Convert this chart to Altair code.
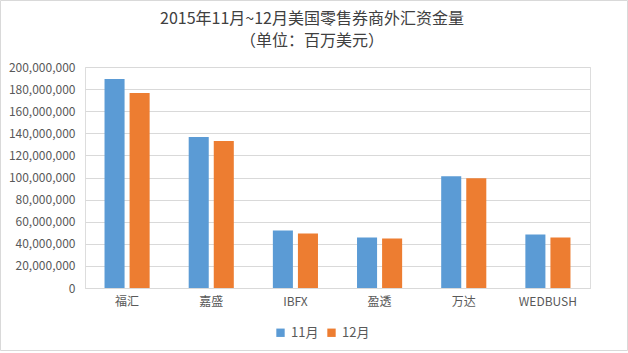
import altair as alt
import pandas as pd

categories = ["福汇", "嘉盛", "IBFX", "盈透", "万达", "WEDBUSH"]
nov = [189100000, 136700000, 52100000, 45700000, 101200000, 48500000]
dec = [176500000, 133000000, 49400000, 44800000, 99400000, 45700000]
series = ["11月", "12月"]
colors = ["#5B9BD5", "#ED7D31"]
title_lines = ["2015年11月~12月美国零售券商外汇资金量", "（单位：百万美元）"]

rows = []
for c, a, b in zip(categories, nov, dec):
    rows.append({"券商": c, "月份": "11月", "金额": a})
    rows.append({"券商": c, "月份": "12月", "金额": b})
df = pd.DataFrame(rows)

FONT = "Noto Sans CJK SC"
W, H = 505, 221

bars = alt.Chart(df).mark_bar().encode(
    x=alt.X("券商:N", sort=categories, title=None,
            scale=alt.Scale(paddingInner=0.464, paddingOuter=0.232),
            axis=alt.Axis(labelAngle=0, labelFontSize=12, labelColor="#595959",
                          labelFont=FONT, domainColor="#D9D9D9", ticks=False,
                          labelPadding=8)),
    xOffset=alt.XOffset("月份:N", sort=series, scale=alt.Scale(paddingInner=0.2)),
    y=alt.Y("金额:Q", title=None,
            scale=alt.Scale(domain=[0, 200000000]),
            axis=alt.Axis(values=list(range(0, 200000001, 20000000)), format=",.0f",
                          labelFontSize=12, labelColor="#595959", labelFont=FONT,
                          domain=False, ticks=False, labelPadding=10,
                          gridColor="#D9D9D9", gridWidth=1)),
    color=alt.Color("月份:N", sort=series,
                    scale=alt.Scale(domain=series, range=colors),
                    legend=alt.Legend(title=None, orient="none", direction="horizontal",
                                      legendX=189, legendY=H + 38, symbolType="square",
                                      symbolSize=70, symbolStrokeWidth=0,
                                      labelFontSize=13, labelColor="#595959",
                                      labelFont=FONT, columnPadding=6, labelOffset=4)),
)

border = alt.Chart(pd.DataFrame({"a": [0]})).mark_rect(
    fill=None, stroke="#D9D9D9", strokeWidth=1, clip=False
).encode(
    x=alt.value(-84.5), x2=alt.value(W + 37.5),
    y=alt.value(-66.5), y2=alt.value(H + 62.5),
)

tdf = pd.DataFrame({"t": title_lines, "i": [0, 1]})
title1 = alt.Chart(tdf[tdf.i == 0]).mark_text(
    font=FONT, fontSize=16, color="#404040", align="center", baseline="middle", clip=False
).encode(text="t:N", x=alt.value(312 - 85), y=alt.value(19 - 67))
title2 = alt.Chart(tdf[tdf.i == 1]).mark_text(
    font=FONT, fontSize=16, color="#404040", align="center", baseline="middle", clip=False
).encode(text="t:N", x=alt.value(312 - 85), y=alt.value(41 - 67))

chart = alt.layer(bars, border, title1, title2).properties(
    width=W, height=H,
    autosize=alt.AutoSizeParams(type="none"),
    padding={"left": 85, "top": 67, "right": 38, "bottom": 64},
).configure_view(strokeOpacity=0).configure(background="white")

chart.save("out.html", embed_options={"renderer": "svg", "actions": False})
